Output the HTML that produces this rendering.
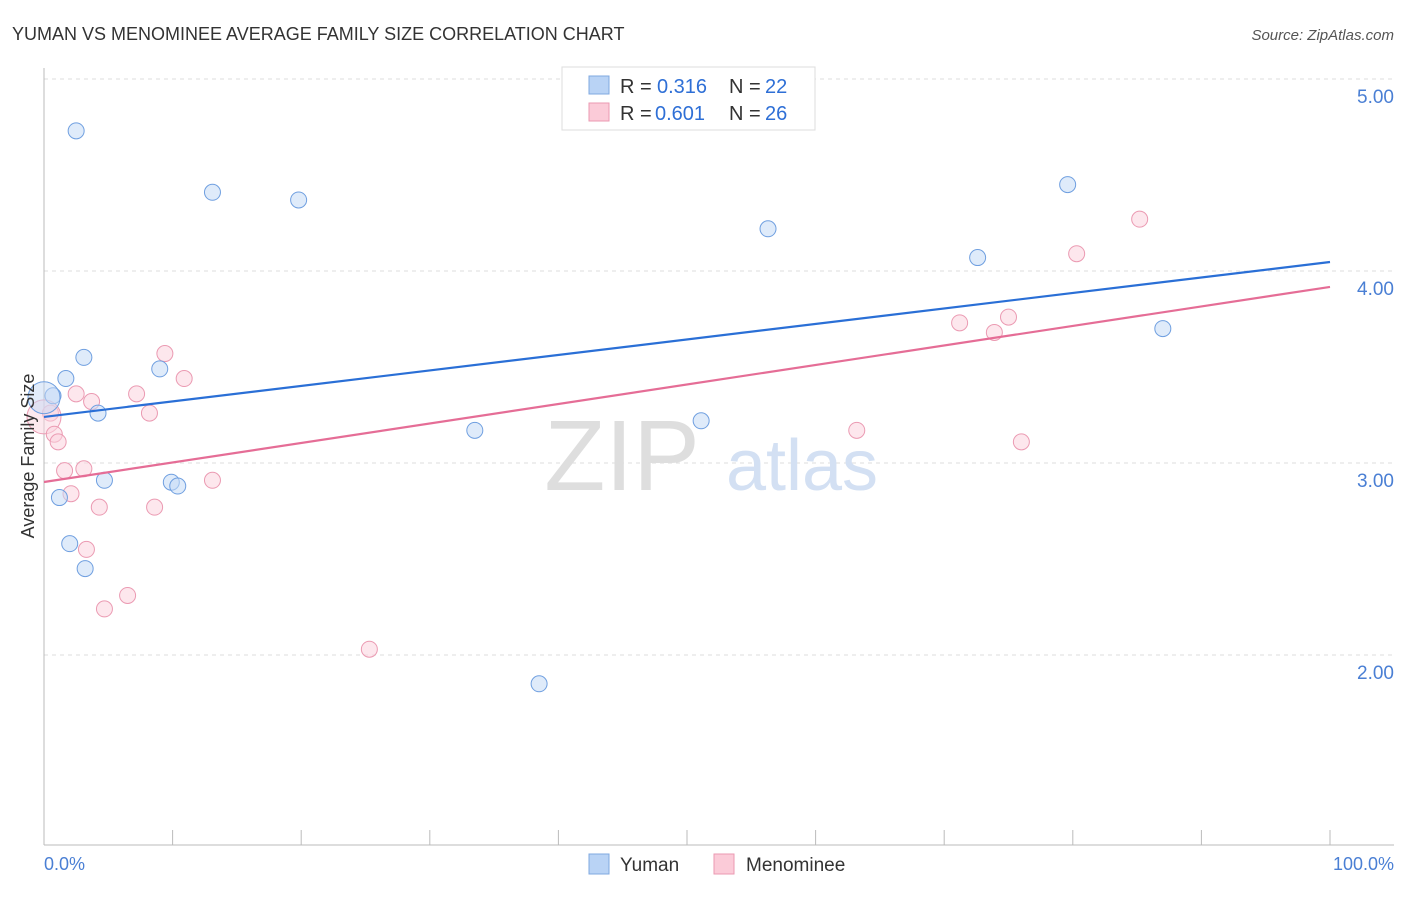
<!DOCTYPE html>
<html><head><meta charset="utf-8"><style>
body{margin:0;background:#fff;font-family:"Liberation Sans",sans-serif}
svg text{font-family:"Liberation Sans",sans-serif}
</style></head><body>
<svg width="1406" height="892">
<text x="12" y="40" font-size="18" fill="#333">YUMAN VS MENOMINEE AVERAGE FAMILY SIZE CORRELATION CHART</text>
<text x="1394" y="40" font-size="15" fill="#555" font-style="italic" text-anchor="end">Source: ZipAtlas.com</text>
<g id="grid"></g>
<text x="622" y="490" font-size="100" fill="#dedede" font-family="Liberation Serif" text-anchor="middle">ZIP</text>
<text x="802" y="490" font-size="72" fill="#d3e0f3" text-anchor="middle">atlas</text>
<g id="marks"></g>
<text transform="translate(34,456) rotate(-90)" font-size="18" fill="#333" text-anchor="middle">Average Family Size</text>
<text x="44" y="870" font-size="18" fill="#4a7fd4">0.0%</text>
<text x="1394" y="870" font-size="18" fill="#4a7fd4" text-anchor="end">100.0%</text>
<g>
<rect x="562" y="67" width="253" height="63" fill="#fff" stroke="#ddd"/>
<rect x="589" y="76" width="20" height="18" fill="#b9d3f5" stroke="#7fa8e0"/>
<rect x="589" y="103" width="20" height="18" fill="#fbcbd8" stroke="#eb9ab2"/>
<text x="620" y="93" font-size="20" fill="#333">R =</text>
<text x="657" y="93" font-size="20" fill="#2e6fd6">0.316</text>
<text x="729" y="93" font-size="20" fill="#333">N =</text>
<text x="765" y="93" font-size="20" fill="#2e6fd6">22</text>
<text x="620" y="120" font-size="20" fill="#333">R =</text>
<text x="655" y="120" font-size="20" fill="#2e6fd6">0.601</text>
<text x="729" y="120" font-size="20" fill="#333">N =</text>
<text x="765" y="120" font-size="20" fill="#2e6fd6">26</text>
</g>
<g>
<rect x="589" y="854" width="20" height="20" fill="#b9d3f5" stroke="#7fa8e0"/>
<text x="620" y="871" font-size="19" fill="#333">Yuman</text>
<rect x="714" y="854" width="20" height="20" fill="#fbcbd8" stroke="#eb9ab2"/>
<text x="746" y="871" font-size="19" fill="#333">Menominee</text>
</g>
</svg>
<script>
const yTicks=[5,4,3,2];
const yTickLabels=["5.00","4.00","3.00","2.00"];
const xTicks=[0,10,20,30,40,50,60,70,80,90,100];
const yumanX=[2.5,13.1,19.8,56.3,79.6,72.6,87.0,3.1,1.7,9.0,0.7,4.2,33.5,51.1,4.7,9.9,10.4,1.2,2.0,3.2,38.5,0];
const yumanY=[4.73,4.41,4.37,4.22,4.45,4.07,3.70,3.55,3.44,3.49,3.35,3.26,3.17,3.22,2.91,2.90,2.88,2.82,2.58,2.45,1.85,3.34];
const yumanR=[8,8,8,8,8,8,8,8,8,8,8,8,8,8,8,8,8,8,8,8,8,16];
const menX=[85.2,80.3,71.2,75.0,73.9,9.4,10.9,7.2,2.5,3.7,8.2,0.5,0,0.8,1.1,63.2,76.0,1.6,3.1,13.1,2.1,4.3,8.6,3.3,6.5,4.7,25.3];
const menY=[4.27,4.09,3.73,3.76,3.68,3.57,3.44,3.36,3.36,3.32,3.26,3.26,3.24,3.15,3.11,3.17,3.11,2.96,2.97,2.91,2.84,2.77,2.77,2.55,2.31,2.24,2.03];
const menR=[8,8,8,8,8,8,8,8,8,8,8,8,17,8,8,8,8,8,8,8,8,8,8,8,8,8,8];
const yumanTrend=[3.24,4.047];
const menTrend=[2.901,3.917];
const NS="http://www.w3.org/2000/svg";
const X=v=>44+v*12.86, Y=v=>79+(5-v)*192;
function mk(t,a,p){const e=document.createElementNS(NS,t);for(const k in a)e.setAttribute(k,a[k]);p.appendChild(e);return e;}
const g=document.getElementById('grid'), m=document.getElementById('marks');
yTicks.forEach((t,i)=>{
 const l=mk('line',{x1:44,x2:1394,y1:Y(t),y2:Y(t),stroke:'#ddd','stroke-dasharray':'4,4'},g);
 
 
 const tx=mk('text',{x:1394,y:Y(t)+24,'font-size':19,fill:'#4a7fd4','text-anchor':'end'},g);
 tx.textContent=yTickLabels[i];
 
 
});
const ax=mk('line',{x1:44,x2:44,y1:68,y2:845,stroke:'#bbb'},g);


const bx=mk('line',{x1:44,x2:1394,y1:845,y2:845,stroke:'#bbb'},g);


xTicks.forEach(t=>{
 const l=mk('line',{x1:X(t),x2:X(t),y1:830,y2:845,stroke:'#bbb'},g);
 
 
});
function pts(xs,ys,rs,fill,stroke,name){
 xs.forEach((x,i)=>{
  const c=mk('circle',{cx:X(x),cy:Y(ys[i]),r:rs[i],fill:fill,'fill-opacity':rs[i]>10?0.5:0.55,stroke:stroke,'stroke-width':1},m);
  
  
 });
}
pts(menX,menY,menR,'#fbd3df','#eb9ab2','menominee-point');
pts(yumanX,yumanY,yumanR,'#c5daf6','#6f9fe0','yuman-point');
const l1=mk('line',{x1:X(0),y1:Y(yumanTrend[0]),x2:X(100),y2:Y(yumanTrend[1]),stroke:'#2a6fd6','stroke-width':2.2},m);


const l2=mk('line',{x1:X(0),y1:Y(menTrend[0]),x2:X(100),y2:Y(menTrend[1]),stroke:'#e56d96','stroke-width':2.2},m);


</script>
</body></html>
